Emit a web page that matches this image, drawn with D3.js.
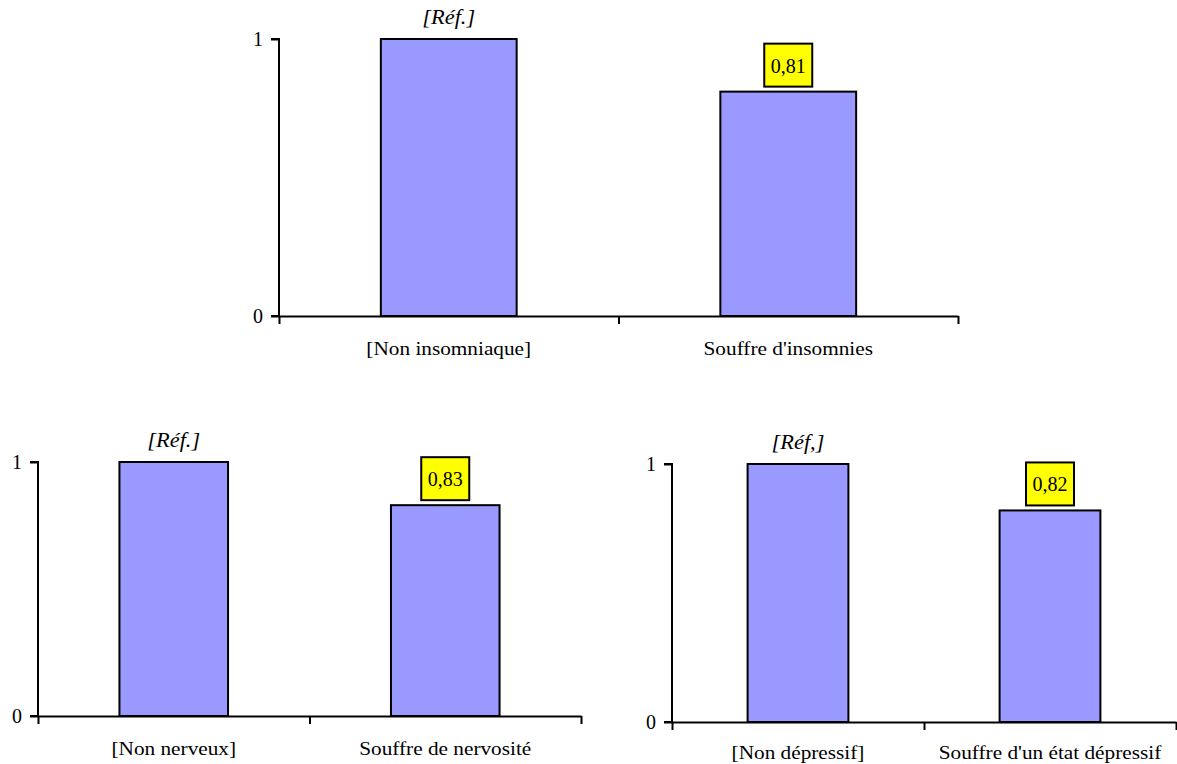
<!DOCTYPE html>
<html>
<head>
<meta charset="utf-8">
<script src="https://cdn.jsdelivr.net/npm/d3@7"></script>
<style>
  body { margin: 0; background: #fff; }
</style>
</head>
<body>
<div id="chart"></div>
<script>
// data for the three panels
const insomnieCategories = ["[Non insomniaque]", "Souffre d'insomnies"];
const insomnieValues = [1, 0.81];
const nervositeCategories = ["[Non nerveux]", "Souffre de nervosité"];
const nervositeValues = [1, 0.83];
const depressionCategories = ["[Non dépressif]", "Souffre d'un état dépressif"];
const depressionValues = [1, 0.82];
const refLabels = ["[Réf.]", "[Réf.]", "[Réf,]"];
const valueLabels = ["0,81", "0,83", "0,82"];
const yTicks = [0, 1];

const serif = "'Liberation Serif', 'DejaVu Serif', serif";
const stretch = 1.12; // source picture is a bit wider than tall

let svg = d3.select("#chart").append("svg")
	.attr("width", 1177)
	.attr("height", 764);

// one panel = one small bar chart
function panel(opts){
	let x0 = opts.left, x1 = opts.right;
	let y = d3.scaleLinear().domain([0, 1]).range([opts.bottom, opts.top]);
	let x = d3.scaleBand()
		.domain(opts.categories)
		.range([x0, x1])
		.paddingInner(0.6)
		.paddingOuter(0.3);
	let xEdges = d3.scaleLinear().domain([0, opts.categories.length]).range([x0, x1]);

	let g = svg.append("g");

	// bars
	g.selectAll(".bar")
		.data(opts.values)
		.enter().append("rect")
		.attr("class", "bar")
		.attr("x", (d,i)=>x(opts.categories[i]))
		.attr("y", d=>y(d))
		.attr("width", x.bandwidth())
		.attr("height", d=>y(0)-y(d))
		.style("fill", "#9999ff")
		.style("stroke", "#000")
		.style("stroke-width", 2);

	// y axis
	let yAxis = d3.axisLeft(y).tickValues(yTicks).tickSize(8).tickPadding(8).tickFormat(d3.format("d"));
	let ga = g.append("g")
		.attr("transform", "translate(" + x0 + ",0)")
		.call(yAxis);
	ga.select(".domain").attr("d", "M" + (-8) + "," + y(1) + "H0V" + y(0) + "H-8");

	// x axis with ticks at the band edges
	let xAxis = d3.axisBottom(xEdges).tickValues(d3.range(opts.categories.length + 1)).tickSize(8).tickSizeOuter(0).tickFormat("");
	let gx = g.append("g")
		.attr("transform", "translate(0," + y(0) + ")")
		.call(xAxis);

	[ga, gx].forEach(a=>{
		a.selectAll("path, line").style("stroke", "#000").style("stroke-width", 2);
	});
	ga.selectAll("text")
		.style("font-size", "20px")
		.style("font-family", serif)
		.style("fill", "#000");

	// category labels
	g.selectAll(".cat")
		.data(opts.categories)
		.enter().append("text")
		.attr("class", "cat")
		.attr("transform", d=>"translate(" + (x(d) + x.bandwidth()/2) + "," + opts.labelY + ") scale(" + stretch + ",1)")
		.attr("text-anchor", "middle")
		.style("font-family", serif)
		.style("font-size", "19px")
		.text(d=>d);

	// reference label above first bar
	g.append("text")
		.attr("transform", "translate(" + (x(opts.categories[0]) + x.bandwidth()/2) + "," + (y(opts.values[0]) - 15) + ") scale(" + stretch + ",1)")
		.attr("text-anchor", "middle")
		.style("font-family", serif)
		.style("font-size", "20px")
		.style("font-style", "italic")
		.text(opts.ref);

	// boxed value label above second bar
	let cx = x(opts.categories[1]) + x.bandwidth()/2;
	let by = y(opts.values[1]) - 5;
	g.append("rect")
		.attr("x", cx - 24)
		.attr("y", by - 43)
		.attr("width", 48)
		.attr("height", 43)
		.style("fill", "#ffff00")
		.style("stroke", "#000")
		.style("stroke-width", 2);
	g.append("text")
		.attr("x", cx)
		.attr("y", by - 14)
		.attr("text-anchor", "middle")
		.style("font-family", serif)
		.style("font-size", "20px")
		.text(opts.label);
}

panel({left: 279, right: 958, top: 39, bottom: 316, labelY: 355,
	categories: insomnieCategories, values: insomnieValues, ref: refLabels[0], label: valueLabels[0]});
panel({left: 38, right: 581, top: 462, bottom: 716, labelY: 755,
	categories: nervositeCategories, values: nervositeValues, ref: refLabels[1], label: valueLabels[1]});
panel({left: 672, right: 1176, top: 464, bottom: 722, labelY: 759,
	categories: depressionCategories, values: depressionValues, ref: refLabels[2], label: valueLabels[2]});
</script>
</body>
</html>
